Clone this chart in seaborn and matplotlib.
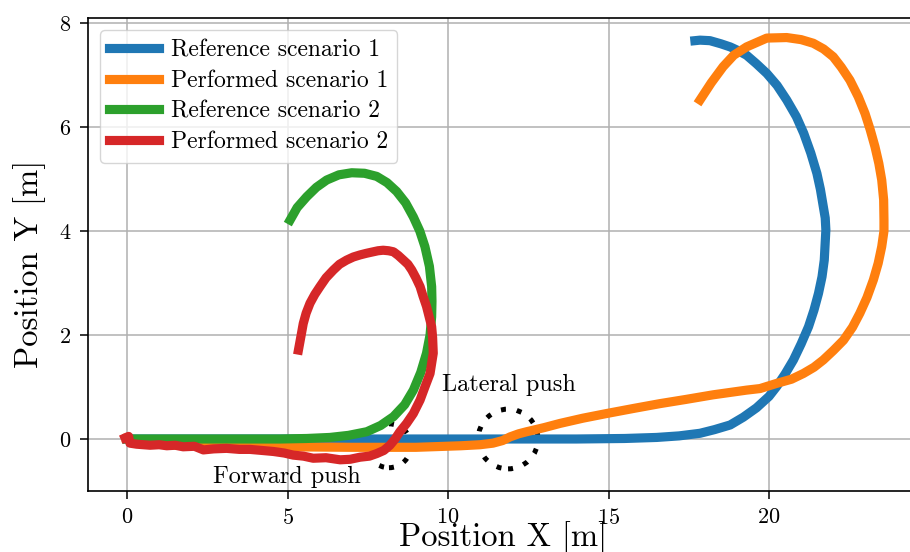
import matplotlib
matplotlib.use("Agg")
import matplotlib.pyplot as plt
import seaborn as sns
import pandas as pd

# ---------------- data ----------------
ref1_x = [0, 5, 10, 14, 15.5, 16.5, 17.2, 17.85, 18.3, 18.79, 19.2, 19.61, 20.0, 20.24, 20.5,
          20.76, 21.0, 21.23, 21.4, 21.54, 21.65, 21.72, 21.77, 21.75, 21.69, 21.6, 21.49, 21.3,
          21.08, 20.85, 20.55, 20.25, 19.93, 19.6, 19.30, 19.0, 18.79, 18.5, 18.16, 17.85, 17.69]
ref1_y = [0, 0, 0, 0, 0.01, 0.03, 0.06, 0.11, 0.18, 0.27, 0.42, 0.6, 0.82, 1.01, 1.25,
          1.52, 1.83, 2.16, 2.48, 2.80, 3.12, 3.44, 4.02, 4.25, 4.47, 4.8, 5.11, 5.5,
          5.88, 6.2, 6.52, 6.8, 7.03, 7.22, 7.38, 7.48, 7.54, 7.6, 7.66, 7.67, 7.66]

perf1_x = [0, 0.5, 1.5, 3, 5, 7, 9, 10.4, 11.0, 11.4, 11.7, 11.93, 12.2, 12.45, 13.0, 13.49,
           14.2, 14.94, 15.8, 16.6, 17.4, 18.26, 19.3, 19.72, 20.24, 20.7, 21.07, 21.4, 21.69,
           22.0, 22.32, 22.6, 22.83, 23.05, 23.25, 23.4, 23.51, 23.58, 23.58, 23.57, 23.51,
           23.42, 23.30, 23.15, 22.99, 22.78, 22.52, 22.25, 22.0, 21.7, 21.38, 21.0, 20.55,
           19.93, 19.30, 18.9, 18.57, 18.2, 17.85]
perf1_y = [0, -0.08, -0.12, -0.14, -0.15, -0.16, -0.16, -0.13, -0.11, -0.08, -0.03, 0.04, 0.10,
           0.14, 0.22, 0.30, 0.40, 0.49, 0.59, 0.68, 0.76, 0.85, 0.94, 0.97, 1.07, 1.15, 1.26,
           1.38, 1.52, 1.70, 1.90, 2.15, 2.42, 2.72, 3.06, 3.38, 3.70, 4.0, 4.21, 4.6, 4.98,
           5.3, 5.62, 5.95, 6.26, 6.58, 6.90, 7.15, 7.35, 7.5, 7.61, 7.68, 7.72, 7.71, 7.54,
           7.38, 7.16, 6.85, 6.52]

ref2_x = [0, 3, 4.77, 5.6, 6.32, 6.9, 7.47, 7.9, 8.30, 8.65, 8.92, 9.15, 9.33, 9.44, 9.49,
          9.50, 9.49, 9.42, 9.28, 9.12, 8.92, 8.68, 8.40, 8.1, 7.78, 7.4, 7.0, 6.6, 6.22, 5.9,
          5.60, 5.3, 5.08]
ref2_y = [0, 0, 0, 0.01, 0.03, 0.07, 0.14, 0.26, 0.43, 0.66, 0.94, 1.28, 1.65, 2.0, 2.35,
          2.65, 2.93, 3.32, 3.70, 4.0, 4.27, 4.54, 4.76, 4.93, 5.05, 5.11, 5.12, 5.08, 4.98,
          4.84, 4.66, 4.45, 4.21]

perf2_x = [-0.06, 0.05, 0.09, 0.3, 0.72, 1.0, 1.24, 1.5, 1.75, 2.1, 2.38, 2.7, 3.1, 3.5, 3.83,
           4.2, 4.56, 4.9, 5.18, 5.5, 5.80, 6.2, 6.64, 6.95, 7.26, 7.55, 7.78, 8.0, 8.19, 8.35,
           8.50, 8.71, 8.92, 9.13, 9.28, 9.44, 9.54, 9.52, 9.49, 9.40, 9.33, 9.22, 9.13, 9.0,
           8.87, 8.75, 8.61, 8.45, 8.30, 8.15, 7.98, 7.82, 7.67, 7.45, 7.26, 7.05, 6.84, 6.62,
           6.43, 6.2, 6.01, 5.85, 5.70, 5.58, 5.49, 5.42, 5.34]
perf2_y = [0.02, 0.05, -0.08, -0.10, -0.12, -0.11, -0.13, -0.12, -0.15, -0.14, -0.21, -0.19,
           -0.18, -0.20, -0.20, -0.22, -0.24, -0.27, -0.31, -0.33, -0.37, -0.36, -0.40, -0.39,
           -0.35, -0.33, -0.28, -0.22, -0.12, 0.0, 0.14, 0.30, 0.49, 0.75, 1.0, 1.26, 1.65,
           1.95, 2.16, 2.38, 2.55, 2.75, 2.93, 3.1, 3.25, 3.36, 3.44, 3.53, 3.60, 3.62, 3.63,
           3.62, 3.60, 3.57, 3.54, 3.50, 3.44, 3.36, 3.25, 3.1, 2.93, 2.78, 2.61, 2.42, 2.22,
           1.98, 1.71]

series_labels = ["Reference scenario 1", "Performed scenario 1",
                 "Reference scenario 2", "Performed scenario 2"]
series_colors = ["#1f77b4", "#ff7f0e", "#2ca02c", "#d62728"]

push_labels = ["Forward push", "Lateral push"]
push_x = [8.16, 11.87]
push_y = [-0.13, 0.0]
push_text_x = [4.98, 11.9]
push_text_y = [-0.72, 1.04]

x_ticks = [0, 5, 10, 15, 20]
y_ticks = [0, 2, 4, 6, 8]

# ---------------- style ----------------
plt.rcParams['font.family'] = ['cmr10', 'DejaVu Serif']
plt.rcParams['axes.formatter.use_mathtext'] = True
plt.rcParams['mathtext.fontset'] = 'cm'

fig = plt.figure(figsize=(9.10, 5.52), dpi=100)
W, H = 910, 552
ax = fig.add_axes([88 / W, (H - 491) / H, (918 - 88) / W, (491 - 18) / H])

ax.grid(True, color="#b0b0b0", linewidth=1.1, zorder=0)
ax.set_axisbelow(True)

# push markers (dotted circles)
ax.scatter(push_x, push_y, s=[1000, 1850], facecolors="none", edgecolors="black",
           linewidths=3.6, linestyle=(0, (1, 2.2)), zorder=1.5)

xs = [ref1_x, perf1_x, ref2_x, perf2_x]
ys = [ref1_y, perf1_y, ref2_y, perf2_y]
for sx, sy, lab, col in zip(xs, ys, series_labels, series_colors):
    df = pd.DataFrame({"x": sx, "y": sy})
    sns.lineplot(data=df, x="x", y="y", sort=False, estimator=None, ax=ax,
                 color=col, linewidth=6.6, label=lab, zorder=2)

for t, tx, ty in zip(push_labels, push_text_x, push_text_y):
    ax.text(tx, ty, t, ha="center", va="center", fontsize=17.5, zorder=3)

ax.set_xlim(-1.215, 24.64)
ax.set_ylim(-1.0, 8.096)
ax.set_xticks(x_ticks)
ax.set_yticks(y_ticks)
ax.tick_params(axis="both", labelsize=16, length=6, width=1.1, pad=6)
for sp in ax.spines.values():
    sp.set_linewidth(1.2)

ax.set_xlabel("Position X [m]", fontsize=23.5)
ax.set_ylabel("Position Y [m]", fontsize=23.5)
ax.xaxis.set_label_coords(0.5, -0.063)
ax.yaxis.set_label_coords(-0.05, 0.48)

leg = ax.legend(loc="upper left", fontsize=17, handlelength=2.1, handletextpad=0.5,
                labelspacing=0.36, framealpha=0.8, borderaxespad=0.5)
for ln in leg.get_lines():
    ln.set_linewidth(6.6)

fig.savefig("out.png", dpi=100)
